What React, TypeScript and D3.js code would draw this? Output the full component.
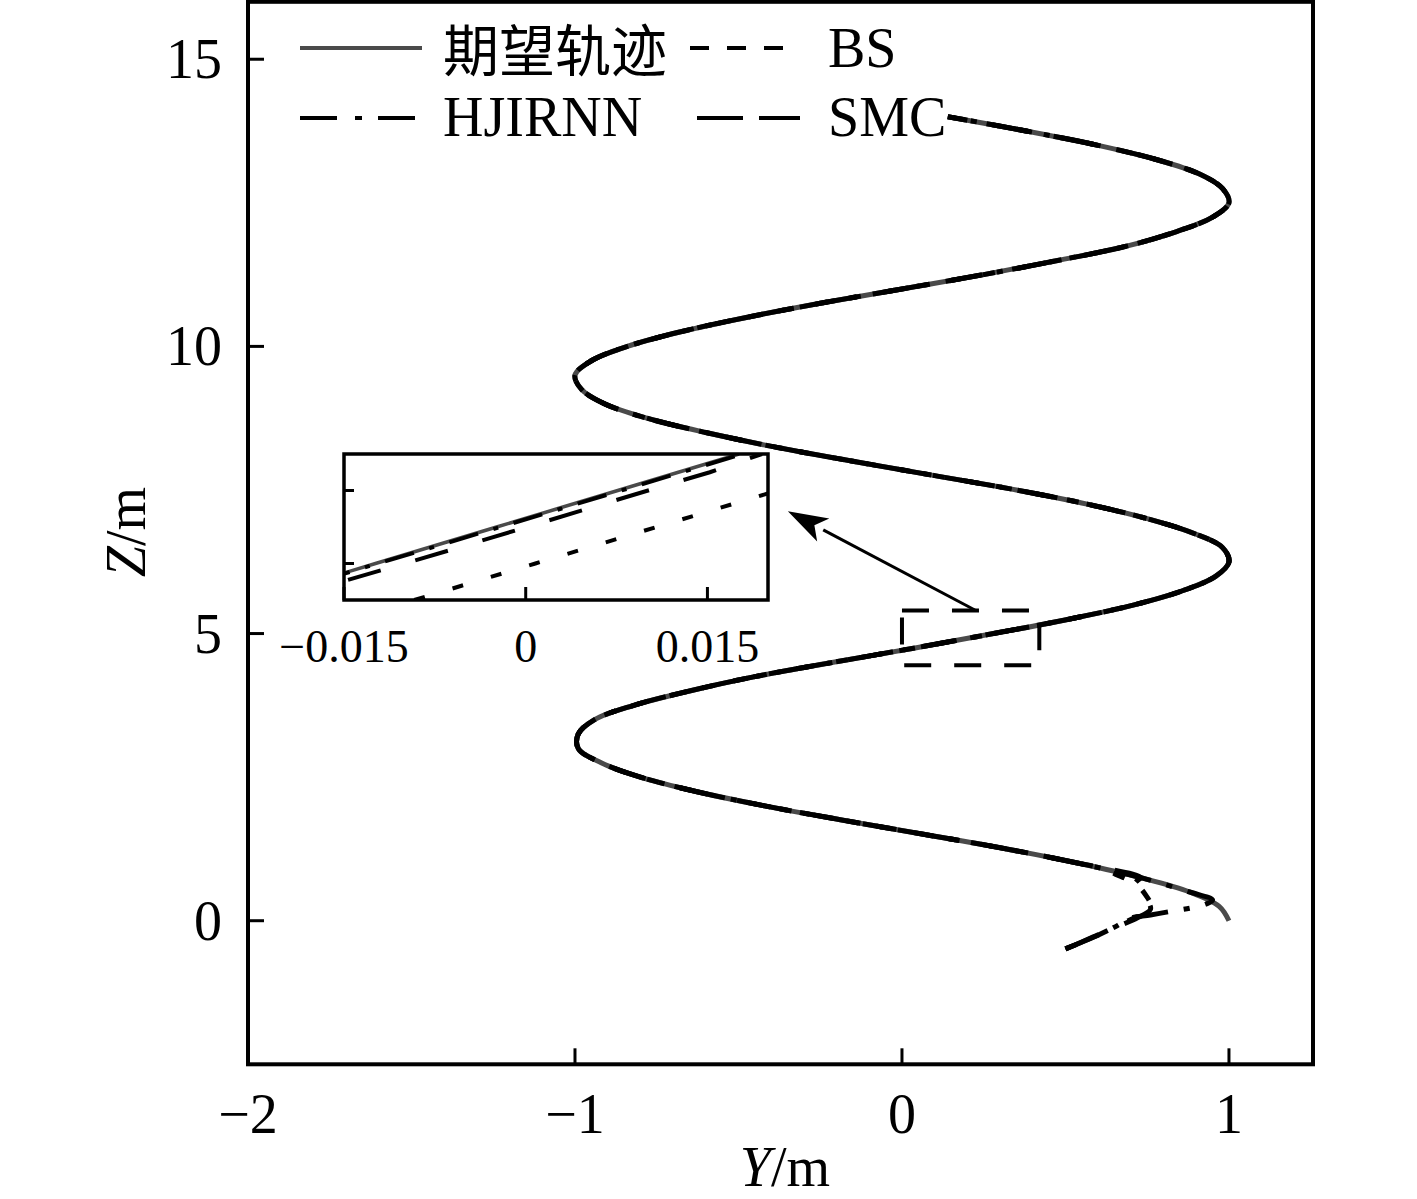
import React, { useEffect, useRef } from 'react';
import * as d3 from 'd3';

const W = 1417;
const H = 1199;

// desired trajectory (Y, Z in m)
const refZ = [0, 0.25, 0.5, 0.75, 1.0, 1.25, 1.5, 1.75, 2.0, 2.25, 2.5, 2.75, 3.0, 3.25, 3.5, 3.75,
  4.0, 4.25, 4.5, 4.75, 5.0, 5.25, 5.5, 5.75, 6.0, 6.25, 6.5, 6.75, 7.0, 7.25, 7.5, 7.75,
  8.0, 8.25, 8.5, 8.75, 9.0, 9.25, 9.5, 9.75, 10.0, 10.25, 10.5, 10.75, 11.0, 11.25, 11.5, 11.75,
  12.0, 12.25, 12.5, 12.75, 13.0, 13.25, 13.5, 13.75, 14.0];
const refY = [1.0, 0.97, 0.88, 0.73, 0.54, 0.32, 0.07, -0.18, -0.42, -0.63, -0.8, -0.92, -0.99, -0.99, -0.94, -0.82,
  -0.65, -0.45, -0.21, 0.04, 0.28, 0.51, 0.71, 0.86, 0.96, 1.0, 0.98, 0.89, 0.75, 0.57, 0.35, 0.1,
  -0.15, -0.39, -0.6, -0.78, -0.91, -0.98, -1.0, -0.95, -0.84, -0.68, -0.48, -0.25, 0.0, 0.25, 0.48, 0.69,
  0.84, 0.95, 1.0, 0.98, 0.91, 0.78, 0.6, 0.38, 0.14];

// start-up transients of the three controllers, before they merge into the desired path
const hjStartY = [0.5, 0.55, 0.61, 0.66, 0.69, 0.76, 0.83, 0.89, 0.93, 0.95];
const hjStartZ = [-0.49, -0.37, -0.22, -0.08, 0.03, 0.1, 0.17, 0.23, 0.29, 0.36];
const hjJoinZ = 0.5;
const bsStartY = [0.5, 0.57, 0.64, 0.7, 0.745, 0.76, 0.745, 0.72, 0.69, 0.64, 0.6];
const bsStartZ = [-0.49, -0.33, -0.14, 0.02, 0.15, 0.28, 0.45, 0.62, 0.72, 0.84, 0.93];
const bsJoinZ = 1.0;
const smcStartY = [0.5, 0.58, 0.66, 0.72, 0.76, 0.75, 0.72, 0.71, 0.72];
const smcStartZ = [-0.49, -0.3, -0.1, 0.05, 0.2, 0.35, 0.5, 0.62, 0.7];
const smcJoinZ = 0.75;

// zoomed-in window
const insetZ = [4.69, 4.695, 4.7, 4.705, 4.71, 4.715, 4.72, 4.725, 4.73];
const insetRef = [-0.0224, -0.0174, -0.0124, -0.0074, -0.0024, 0.0026, 0.0076, 0.0126, 0.0176];
const insetHj = [-0.0222, -0.0172, -0.0122, -0.0071, -0.0021, 0.0029, 0.0079, 0.0129, 0.0179];
const insetSmc = [-0.0202, -0.0152, -0.01, -0.0049, 0.0001, 0.0051, 0.0101, 0.0152, 0.0195];
const insetBs = [-0.0092, -0.0042, 0.0008, 0.0058, 0.0108, 0.0158, 0.0208, 0.0258, 0.0308];

// zoom marker on the main plot
const boxY = [0, 0.42];
const boxZ = [4.45, 5.4];
const arrowFrom = [0.223, 5.41];
const arrowTo = [-0.349, 7.13];

const xTicks = [-2, -1, 0, 1];
const yTicks = [0, 5, 10, 15];
const insetXTicks = [-0.015, 0, 0.015];
const insetYTicks = [4.7, 4.72];
const names = ['期望轨迹', 'BS', 'HJIRNN', 'SMC'];

const fmt = (v: number) => (v < 0 ? '\u2212' + String(-v) : String(v));
const SERIF = '"Liberation Serif", "Times New Roman", "Noto Sans CJK SC", serif';
const GREY = '#4a4a4a';

export default function App() {
  const ref = useRef<SVGSVGElement>(null);

  useEffect(() => {
    const svg = d3.select(ref.current);
    svg.selectAll('*').remove();

    const x = d3.scaleLinear().domain([-2, 1.257]).range([248, 1313]);
    const y = d3.scaleLinear().domain([-2.5, 16]).range([1064.3, 1.8]);

    const ref0 = refZ.map((z, i) => [refY[i], z]);
    const track = (sy: number[], sz: number[], joinZ: number) =>
      sy.map((v, i) => [v, sz[i]]).concat(ref0.filter((d) => d[1] >= joinZ));

    const line = d3.line<number[]>().x((d) => x(d[0])).y((d) => y(d[1])).curve(d3.curveCatmullRom);

    const g = svg.append('g');

    const series = [
      { data: ref0, color: GREY, dash: null },
      { data: track(bsStartY, bsStartZ, bsJoinZ), color: '#000', dash: '12 22' },
      { data: track(smcStartY, smcStartZ, smcJoinZ), color: '#000', dash: '34 30' },
      { data: track(hjStartY, hjStartZ, hjJoinZ), color: '#000', dash: '36 16 6 16' },
    ];
    series.forEach((s) => {
      g.append('path')
        .attr('d', line(s.data))
        .attr('fill', 'none')
        .attr('stroke', s.color)
        .attr('stroke-width', 5)
        .attr('stroke-dasharray', s.dash);
    });

    // frame
    g.append('rect')
      .attr('x', x(-2)).attr('y', y(16))
      .attr('width', x(1.257) - x(-2)).attr('height', y(-2.5) - y(16))
      .attr('fill', 'none').attr('stroke', '#000').attr('stroke-width', 4);

    // ticks, inward
    xTicks.forEach((t) => {
      g.append('line').attr('x1', x(t)).attr('x2', x(t)).attr('y1', y(-2.5)).attr('y2', y(-2.5) - 16)
        .attr('stroke', '#000').attr('stroke-width', 3);
      g.append('text').attr('x', x(t)).attr('y', 1133).attr('text-anchor', 'middle')
        .attr('font-family', SERIF).attr('font-size', 56).text(fmt(t));
    });
    yTicks.forEach((t) => {
      g.append('line').attr('x1', x(-2)).attr('x2', x(-2) + 16).attr('y1', y(t)).attr('y2', y(t))
        .attr('stroke', '#000').attr('stroke-width', 3);
      g.append('text').attr('x', 222).attr('y', y(t) + 19).attr('text-anchor', 'end')
        .attr('font-family', SERIF).attr('font-size', 56).text(fmt(t));
    });

    const xl = g.append('text').attr('x', 785).attr('y', 1186).attr('text-anchor', 'middle')
      .attr('font-family', SERIF).attr('font-size', 56);
    xl.append('tspan').attr('font-style', 'italic').text('Y');
    xl.append('tspan').text('/m');
    const yl = g.append('text').attr('transform', 'translate(145,532) rotate(-90)').attr('text-anchor', 'middle')
      .attr('font-family', SERIF).attr('font-size', 56);
    yl.append('tspan').attr('font-style', 'italic').text('Z');
    yl.append('tspan').text('/m');

    // zoom marker and arrow
    g.append('rect')
      .attr('x', x(boxY[0])).attr('y', y(boxZ[1]))
      .attr('width', x(boxY[1]) - x(boxY[0])).attr('height', y(boxZ[0]) - y(boxZ[1]))
      .attr('fill', 'none').attr('stroke', '#000').attr('stroke-width', 4).attr('stroke-dasharray', '27 23');

    const ax0 = x(arrowFrom[0]), ay0 = y(arrowFrom[1]);
    const ax1 = x(arrowTo[0]), ay1 = y(arrowTo[1]);
    const ang = Math.atan2(ay1 - ay0, ax1 - ax0);
    const hl = 40, hw = 13;
    const bx = ax1 - hl * Math.cos(ang), by = ay1 - hl * Math.sin(ang);
    g.append('line').attr('x1', ax0).attr('y1', ay0).attr('x2', bx).attr('y2', by)
      .attr('stroke', '#000').attr('stroke-width', 3);
    g.append('path')
      .attr('d', `M${ax1},${ay1}L${bx + hw * Math.sin(ang)},${by - hw * Math.cos(ang)}L${bx + 10 * Math.cos(ang)},${by + 10 * Math.sin(ang)}L${bx - hw * Math.sin(ang)},${by + hw * Math.cos(ang)}Z`)
      .attr('fill', '#000');

    // inset
    const L = 344, T = 454, IW = 424, IH = 146;
    const ix = d3.scaleLinear().domain([-0.015, 0.02]).range([L, L + IW]);
    const iy = d3.scaleLinear().domain([4.69, 4.73]).range([T + IH, T]);
    svg.append('defs').append('clipPath').attr('id', 'inset-clip')
      .append('rect').attr('x', L).attr('y', T).attr('width', IW).attr('height', IH);
    g.append('rect').attr('x', L).attr('y', T).attr('width', IW).attr('height', IH).attr('fill', '#fff');
    const ig = g.append('g').attr('clip-path', 'url(#inset-clip)');
    const iline = d3.line<number>().x((d) => ix(d)).y((_, i) => iy(insetZ[i]));
    const insetSeries = [
      { data: insetRef, color: GREY, dash: null },
      { data: insetBs, color: '#000', dash: '11 29' },
      { data: insetSmc, color: '#000', dash: '34 36' },
      { data: insetHj, color: '#000', dash: '30 16 5 16' },
    ];
    insetSeries.forEach((s) => {
      ig.append('path').attr('d', iline(s.data)).attr('fill', 'none')
        .attr('stroke', s.color).attr('stroke-width', s.dash ? 4 : 3.5).attr('stroke-dasharray', s.dash);
    });
    g.append('rect').attr('x', L).attr('y', T).attr('width', IW).attr('height', IH)
      .attr('fill', 'none').attr('stroke', '#000').attr('stroke-width', 3.5);
    insetXTicks.forEach((t) => {
      g.append('line').attr('x1', ix(t)).attr('x2', ix(t)).attr('y1', T + IH).attr('y2', T + IH - 13)
        .attr('stroke', '#000').attr('stroke-width', 3);
      g.append('text').attr('x', ix(t)).attr('y', 662).attr('text-anchor', 'middle')
        .attr('font-family', SERIF).attr('font-size', 46).text(fmt(t));
    });
    insetYTicks.forEach((t) => {
      g.append('line').attr('x1', L).attr('x2', L + 10).attr('y1', iy(t)).attr('y2', iy(t))
        .attr('stroke', '#000').attr('stroke-width', 3);
    });

    // legend
    const legend = [
      { x1: 300, x2: 422, ly: 48, tx: 443, ty: 71, color: GREY, dash: null, name: names[0] },
      { x1: 690, x2: 790, ly: 48, tx: 828, ty: 67, color: '#000', dash: '19 18', name: names[1] },
      { x1: 300, x2: 422, ly: 118, tx: 443, ty: 136, color: '#000', dash: '37 18 7 16', name: names[2] },
      { x1: 697, x2: 800, ly: 118, tx: 828, ty: 136, color: '#000', dash: '46 16', name: names[3] },
    ];
    legend.forEach((l) => {
      g.append('line').attr('x1', l.x1).attr('x2', l.x2).attr('y1', l.ly).attr('y2', l.ly)
        .attr('stroke', l.color).attr('stroke-width', 4).attr('stroke-dasharray', l.dash);
      g.append('text').attr('x', l.tx).attr('y', l.ty).attr('font-family', SERIF)
        .attr('font-size', 56).text(l.name);
    });
  }, []);

  return (
    <svg ref={ref} width={W} height={H}
      style={{ position: 'absolute', left: 0, top: 0, background: '#fff', display: 'block' }} />
  );
}
